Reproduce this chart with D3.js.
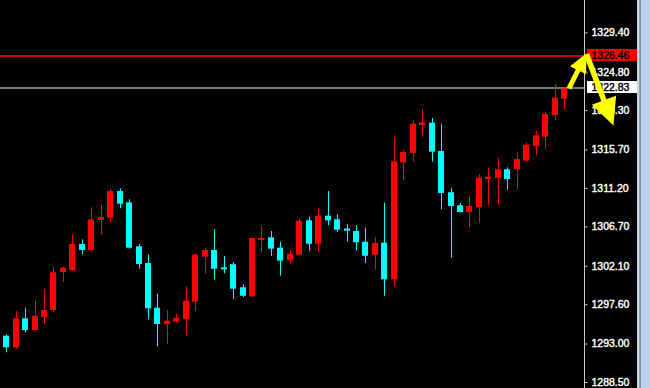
<!DOCTYPE html>
<html>
<head>
<meta charset="utf-8">
<script src="https://cdn.jsdelivr.net/npm/d3@7"></script>
<style>
  body { margin: 0; background: #000; overflow: hidden; }
  svg { display: block; }
</style>
</head>
<body>
<script>
// candles, oldest bar first
var opens = [
  1293.92, 1292.56, 1295.95, 1294.58, 1296.10, 1296.92, 1301.36, 1301.60, 1304.64, 1303.94,
  1307.45, 1307.72, 1310.84, 1309.52, 1304.37, 1302.42, 1297.19, 1295.28, 1295.55, 1295.87,
  1297.89, 1303.15, 1303.94, 1301.91, 1302.27, 1299.58, 1298.52, 1305.19, 1305.42, 1304.21,
  1302.73, 1303.39, 1307.41, 1304.67, 1307.95, 1307.53, 1306.45, 1306.16, 1304.91, 1303.39,
  1304.79, 1300.51, 1314.20, 1315.28, 1318.56, 1318.83, 1315.52, 1310.69, 1309.17, 1308.38,
  1308.93, 1312.24, 1312.39, 1313.38, 1313.38, 1314.38, 1316.10, 1317.19, 1319.73, 1321.63
];
var highs = [
  1294.08, 1296.80, 1297.19, 1298.01, 1299.38, 1301.98, 1301.98, 1305.77, 1305.19, 1308.93,
  1309.20, 1311.11, 1311.15, 1309.87, 1304.64, 1303.39, 1298.83, 1296.92, 1296.49, 1299.65,
  1303.55, 1304.21, 1306.39, 1303.24, 1302.53, 1299.93, 1305.42, 1306.74, 1306.16, 1304.91,
  1303.94, 1307.65, 1307.83, 1308.82, 1310.84, 1308.11, 1306.98, 1306.83, 1306.55, 1305.46,
  1309.47, 1317.19, 1315.63, 1319.14, 1320.39, 1319.38, 1318.71, 1311.22, 1309.43, 1310.25,
  1312.79, 1313.56, 1314.70, 1313.61, 1315.40, 1316.53, 1317.86, 1320.08, 1323.27, 1323.04
];
var lows = [
  1291.97, 1292.36, 1294.31, 1294.43, 1295.28, 1296.65, 1300.23, 1301.48, 1303.43, 1303.70,
  1305.77, 1307.13, 1308.82, 1304.09, 1301.75, 1295.83, 1292.67, 1292.94, 1295.43, 1293.91,
  1296.80, 1301.21, 1300.51, 1301.21, 1298.21, 1298.44, 1298.44, 1303.70, 1303.24, 1300.93,
  1302.38, 1303.27, 1303.82, 1303.70, 1306.86, 1306.04, 1304.96, 1303.86, 1302.42, 1301.63,
  1298.59, 1299.69, 1312.13, 1314.31, 1317.19, 1314.27, 1308.70, 1303.04, 1308.30, 1306.63,
  1307.13, 1309.20, 1309.35, 1310.99, 1311.04, 1314.31, 1315.01, 1315.79, 1319.11, 1320.39
];
var closes = [
  1292.56, 1295.95, 1294.58, 1296.25, 1296.92, 1301.33, 1301.87, 1304.64, 1303.94, 1307.53,
  1307.80, 1310.84, 1309.35, 1304.21, 1302.30, 1297.12, 1295.28, 1295.67, 1295.98, 1298.01,
  1303.39, 1303.94, 1301.75, 1301.75, 1299.41, 1298.59, 1305.34, 1305.34, 1304.09, 1302.69,
  1303.50, 1307.36, 1304.67, 1307.95, 1307.41, 1306.31, 1306.20, 1304.84, 1303.27, 1304.76,
  1300.51, 1314.31, 1315.40, 1318.71, 1318.87, 1315.44, 1310.60, 1309.08, 1308.38, 1309.08,
  1312.39, 1312.51, 1313.38, 1312.24, 1314.58, 1316.25, 1317.35, 1319.84, 1321.75, 1322.83
];

// price scale labels on the right
var tickValues = [1329.40, 1324.80, 1320.30, 1315.70, 1311.20, 1306.70, 1302.10, 1297.60, 1293.00, 1288.50];

// horizontal price lines (level where the line sits) and the text in their boxes
var lineLevels = [1326.60, 1322.83];
var lineLabels = ["1326.46", "1322.83"];
var lineColors = ["#c80000", "#6e7882"];
var boxColors = ["#ff0000", "#ffffff"];

// where the second arrow points to
var arrowTarget = 1318.50;

var width = 650, height = 388;
var axisX = 584.5;
var font = "'Liberation Sans', Arial, sans-serif";

var bars = opens.map(function(o, i) {
  return { i: i, open: o, high: highs[i], low: lows[i], close: closes[i] };
});

var x = d3.scaleLinear().domain([0, bars.length - 1]).range([6.2, 564]);
var y = d3.scaleLinear().domain([1288.50, 1329.40]).range([382, 32.3]);

var svg = d3.select("body").append("svg")
    .attr("width", width)
    .attr("height", height);

svg.append("rect")
    .attr("width", width)
    .attr("height", height)
    .attr("fill", "#000");

// price lines across the chart, 2px thick
svg.selectAll("rect.level")
    .data(lineLevels)
    .enter()
    .append("rect")
    .attr("class", "level")
    .attr("x", 0)
    .attr("width", axisX)
    .attr("y", function(d) { return Math.round(y(d)) - 1; })
    .attr("height", 2)
    .attr("fill", function(d, i) { return lineColors[i]; });

// candles: red when close is above open, cyan otherwise
var candle = svg.selectAll("g.bar")
    .data(bars)
    .enter()
    .append("g")
    .attr("class", "bar")
    .attr("fill", function(d) { return d.close > d.open ? "#ff0000" : "#00ffff"; });

candle.append("rect")
    .attr("x", function(d) { return Math.round(x(d.i)); })
    .attr("width", 1)
    .attr("y", function(d) { return y(d.high); })
    .attr("height", function(d) { return y(d.low) - y(d.high); });

candle.append("rect")
    .attr("x", function(d) { return Math.round(x(d.i)) - 3; })
    .attr("width", 6)
    .attr("y", function(d) { return y(Math.max(d.open, d.close)); })
    .attr("height", function(d) { return Math.max(2, Math.abs(y(d.open) - y(d.close))); });

// right price axis
svg.append("rect")
    .attr("x", Math.floor(axisX))
    .attr("width", 1)
    .attr("y", 0)
    .attr("height", height)
    .attr("fill", "#c8c8c8");

var gAxis = svg.append("g")
    .attr("transform", "translate(" + axisX + ",0)")
    .call(d3.axisRight(y)
        .tickValues(tickValues)
        .tickSize(3)
        .tickPadding(4)
        .tickFormat(d3.format(".2f")));

gAxis.select(".domain").remove();
gAxis.selectAll(".tick line").attr("stroke", "#c8c8c8");
gAxis.selectAll(".tick text")
    .attr("fill", "#ffffff")
    .attr("stroke", "#ffffff")
    .attr("stroke-width", 0.4)
    .attr("font-family", font)
    .attr("font-size", "10.5px");

// price boxes on the axis
var boxes = svg.selectAll("g.pricebox")
    .data(lineLevels)
    .enter()
    .append("g")
    .attr("class", "pricebox");

boxes.append("rect")
    .attr("x", 587)
    .attr("y", function(d) { return Math.round(y(d)) - 7; })
    .attr("width", 50)
    .attr("height", 12)
    .attr("fill", function(d, i) { return boxColors[i]; });

boxes.append("text")
    .attr("x", 591.5)
    .attr("y", function(d) { return Math.round(y(d)) - 1; })
    .attr("dy", "0.35em")
    .attr("fill", "#000")
    .attr("stroke", "#000")
    .attr("stroke-width", 0.4)
    .attr("font-family", font)
    .attr("font-size", "10.5px")
    .text(function(d, i) { return lineLabels[i]; });

// yellow arrows
function arrowPoints(x1, y1, x2, y2, shaft, headLen, headHalf) {
  var dx = x2 - x1, dy = y2 - y1;
  var len = Math.sqrt(dx * dx + dy * dy);
  var ux = dx / len, uy = dy / len;
  var px = -uy, py = ux;
  var bx = x2 - ux * headLen, by = y2 - uy * headLen;
  var s = shaft / 2;
  return [
    [x1 + px * s, y1 + py * s],
    [bx + px * s, by + py * s],
    [bx + px * headHalf, by + py * headHalf],
    [x2, y2],
    [bx - px * headHalf, by - py * headHalf],
    [bx - px * s, by - py * s],
    [x1 - px * s, y1 - py * s]
  ];
}

var last = bars[bars.length - 1];
var arrows = [
  arrowPoints(x(last.i) + 5, y(last.close), axisX + 2, y(lineLevels[0]) - 3, 5, 19, 9),
  arrowPoints(axisX + 2, y(lineLevels[0]) - 2, axisX + 29, y(arrowTarget), 5.5, 27, 13)
];

svg.selectAll("polygon.arrow")
    .data(arrows)
    .enter()
    .append("polygon")
    .attr("class", "arrow")
    .attr("points", function(d) { return d.map(function(p) { return p.join(","); }).join(" "); })
    .attr("fill", "#ffff00");

// window edge on the right
svg.append("rect").attr("x", 637).attr("y", 0).attr("width", 2).attr("height", height).attr("fill", "#d4d4d4");
svg.append("rect").attr("x", 639).attr("y", 0).attr("width", 1.5).attr("height", height).attr("fill", "#8fa6c0");
svg.append("rect").attr("x", 640.5).attr("y", 0).attr("width", 9.5).attr("height", height).attr("fill", "#bcd2ec");
</script>
</body>
</html>
